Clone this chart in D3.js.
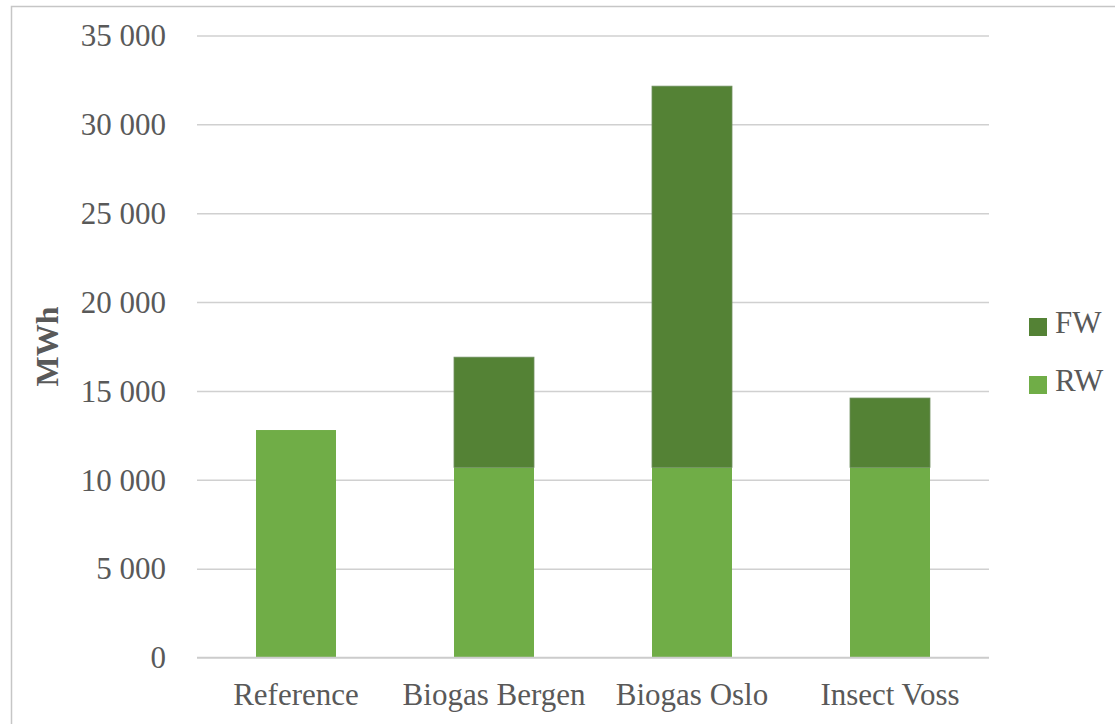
<!DOCTYPE html>
<html>
<head>
<meta charset="utf-8">
<script src="https://cdn.jsdelivr.net/npm/d3@7"></script>
<style>
  html, body { margin: 0; padding: 0; background: #fff; }
  svg { display: block; }
</style>
</head>
<body>
<svg id="chart" width="1115" height="724"></svg>
<script>
const categories = ["Reference", "Biogas Bergen", "Biogas Oslo", "Insect Voss"];
const seriesNames = ["RW", "FW"];
const rwValues = [12800, 10700, 10700, 10700];
const fwValues = [0, 6200, 21450, 3900];
const yTicks = [0, 5000, 10000, 15000, 20000, 25000, 30000, 35000];
const yLabel = "MWh";
const colors = { RW: "#70AD47", FW: "#548235" };

const svg = d3.select("#chart");
const W = 1115, H = 724;
const plot = { left: 197, right: 989, top: 35.5, bottom: 657.5 };
const textColor = "#595959";
const font = "'Liberation Serif', 'Times New Roman', serif";

// outer border
svg.append("rect")
  .attr("x", 11.5).attr("y", 6.5)
  .attr("width", W + 20).attr("height", H + 20)
  .attr("fill", "none").attr("stroke", "#c6c6c6").attr("stroke-width", 1.5);

const x = d3.scaleBand().domain(categories)
  .range([plot.left, plot.right])
  .paddingInner(0.596).paddingOuter(0.298);
const y = d3.scaleLinear().domain([0, 35000]).range([plot.bottom, plot.top]);

const fmt = d3.formatLocale({ decimal: ",", thousands: "\u00a0", grouping: [3], currency: ["", ""] }).format(",");

// gridlines
const grid = svg.append("g")
  .attr("transform", `translate(${plot.left},0)`)
  .call(d3.axisLeft(y).tickValues(yTicks).tickSize(-(plot.right - plot.left)).tickFormat(""));
grid.select(".domain").remove();
grid.selectAll(".tick line").attr("stroke", "#d0d0d0").attr("stroke-width", 1.5);

// y tick labels
const yAxis = svg.append("g")
  .attr("transform", `translate(166,0)`)
  .call(d3.axisLeft(y).tickValues(yTicks).tickSize(0).tickPadding(0).tickFormat(fmt));
yAxis.select(".domain").remove();
yAxis.selectAll("text")
  .attr("font-family", font).attr("font-size", 31).attr("fill", textColor)
  .attr("dy", "0.33em");

// stacked data
const rows = categories.map((c, i) => ({ cat: c, RW: rwValues[i], FW: fwValues[i] }));
const stack = d3.stack().keys(seriesNames)(rows);

svg.append("g").selectAll("g").data(stack).join("g")
  .attr("fill", d => colors[d.key])
  .selectAll("rect").data(d => d.map(v => Object.assign(v, { key: d.key }))).join("rect")
  .filter(d => d[1] - d[0] > 0)
  .attr("x", d => x(d.data.cat))
  .attr("width", x.bandwidth())
  .attr("y", d => y(d[1]))
  .attr("height", d => y(d[0]) - y(d[1]))
  .attr("stroke", d => d.key === "FW" ? "#6f8f5f" : "none")
  .attr("stroke-width", d => d.key === "FW" ? 0.8 : 0);

// baseline
svg.append("line")
  .attr("x1", plot.left).attr("x2", plot.right)
  .attr("y1", y(0)).attr("y2", y(0))
  .attr("stroke", "#cccccc").attr("stroke-width", 1.5);

// x labels
const xAxis = svg.append("g")
  .attr("transform", `translate(0,${plot.bottom})`)
  .call(d3.axisBottom(x).tickSize(0).tickPadding(0));
xAxis.select(".domain").remove();
xAxis.selectAll("text")
  .attr("font-family", font).attr("font-size", 31).attr("fill", textColor)
  .attr("dy", null).attr("y", 47);

// y label
svg.append("text")
  .attr("transform", `translate(58,${(plot.top + plot.bottom) / 2}) rotate(-90)`)
  .attr("text-anchor", "middle")
  .attr("font-family", font).attr("font-size", 32).attr("font-weight", "bold")
  .attr("fill", textColor)
  .text(yLabel);

// legend
const legendItems = ["FW", "RW"];
const leg = svg.append("g").selectAll("g").data(legendItems).join("g")
  .attr("transform", (d, i) => `translate(1029,${318 + i * 58})`);
leg.append("rect").attr("width", 18).attr("height", 18).attr("fill", d => colors[d]);
leg.append("text").attr("x", 26).attr("y", 15)
  .attr("font-family", font).attr("font-size", 31).attr("fill", textColor)
  .text(d => d);
</script>
</body>
</html>
